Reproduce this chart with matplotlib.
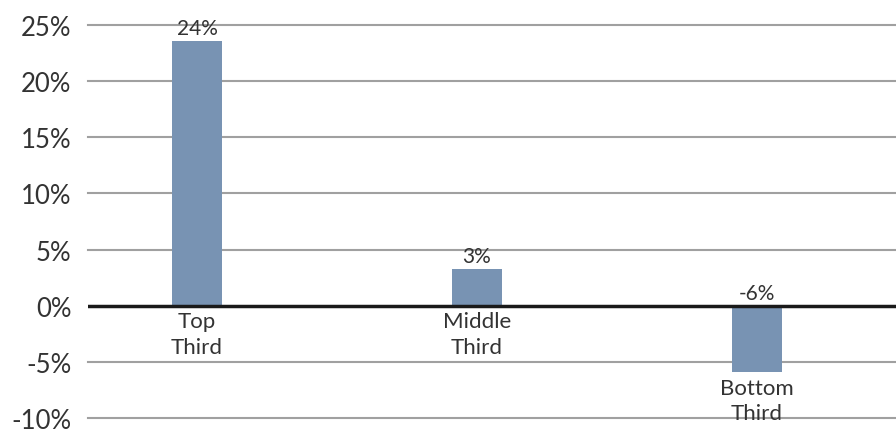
import matplotlib.pyplot as plt

# データ
categories = ["Top\nThird", "Middle\nThird", "Bottom\nThird"]
values = [23.6, 3.3, -5.9]
yticks = [-10, -5, 0, 5, 10, 15, 20, 25]

plt.rcParams['font.family'] = ['Lato', 'DejaVu Sans']
text_color = "#333333"

fig = plt.figure(figsize=(8.96, 4.35), dpi=100)
ax = fig.add_axes([88 / 896, 16 / 435, 808 / 896, 393 / 435])

x = list(range(len(categories)))
ax.bar(x, values, width=0.179, color="#7893B3", zorder=3)

# グリッドとゼロ線
for t in yticks:
    if t == 0:
        continue
    ax.axhline(t, color="#a0a0a0", lw=1.5, zorder=1, clip_on=False)
ax.axhline(0, color="#1a1a1a", lw=2.5, zorder=4)

ax.set_xlim(-0.389, 2.496)
ax.set_ylim(-10, 25)
ax.set_yticks(yticks)
ax.set_yticklabels([f"{t}%" for t in yticks], fontsize=18.5, color=text_color)
ax.set_xticks([])
ax.tick_params(axis="y", length=0, pad=12)
for s in ax.spines.values():
    s.set_visible(False)

# 値ラベルとカテゴリラベル
for xi, v, c in zip(x, values, categories):
    ax.text(xi, max(v, 0) + 0.2, f"{v:.0f}%", ha="center", va="bottom",
            fontsize=15, color=text_color, zorder=5)
    ax.text(xi, min(v, 0) - 0.5, c, ha="center", va="top",
            fontsize=16, color=text_color, linespacing=1.35, zorder=5)

plt.savefig("out.png", dpi=100)
